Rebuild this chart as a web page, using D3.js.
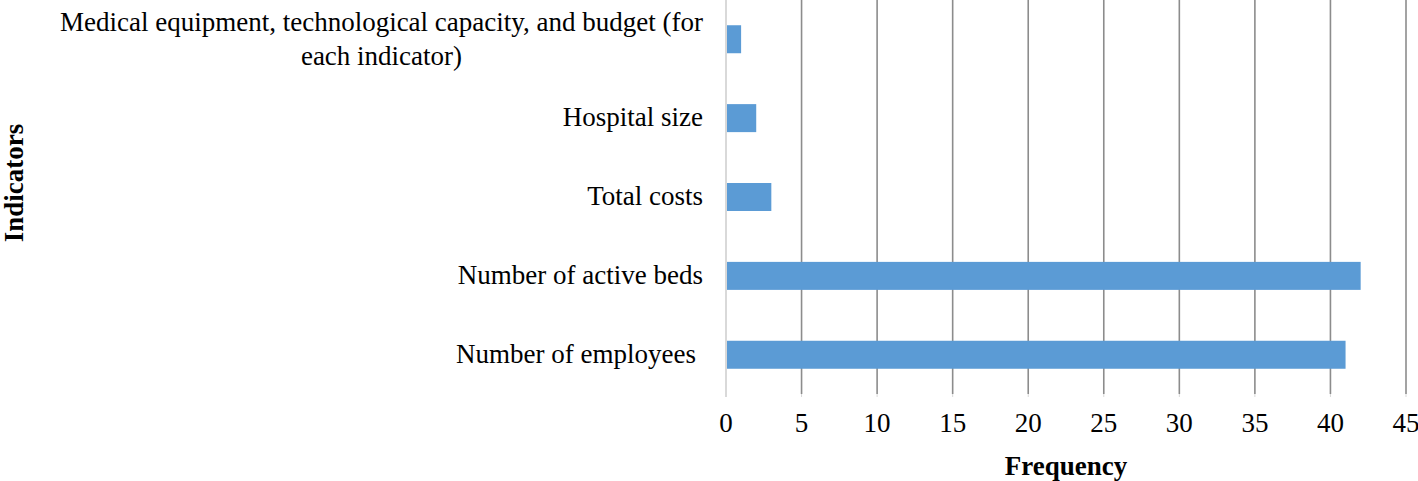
<!DOCTYPE html>
<html>
<head>
<meta charset="utf-8">
<script src="https://d3js.org/d3.v7.min.js"></script>
<style>
  body { margin: 0; background: #fff; }
  text { font-family: 'Liberation Serif', 'Times New Roman', serif; fill: #000; }
</style>
</head>
<body>
<script>
var categories = ['Medical equipment, technological capacity, and budget (for each indicator)',
                  'Hospital size', 'Total costs', 'Number of active beds', 'Number of employees']
var values = [1, 2, 3, 42, 41]
var xTicks = [0, 5, 10, 15, 20, 25, 30, 35, 40, 45]

var w = 1418, h = 481
var plotLeft = 726, plotRight = 1406, plotTop = 0, plotBottom = 394
var fs = 27

var svg = d3.select('body').append('svg').attr('width', w).attr('height', h)

var x = d3.scaleLinear().domain([0, 45]).range([plotLeft, plotRight])
var y = d3.scaleBand().domain(categories).range([plotTop, plotBottom]).paddingInner(0.645).paddingOuter(0.32)

// grid lines
svg.selectAll('line.grid')
    .data(xTicks.slice(1))
    .enter()
    .append('line')
    .attr('class', 'grid')
    .attr('x1', function(d) { return x(d) })
    .attr('x2', function(d) { return x(d) })
    .attr('y1', plotTop)
    .attr('y2', plotBottom)
    .attr('stroke', '#8c8c8c')
    .attr('stroke-width', 1.6)

// small ticks below plot
svg.selectAll('line.tick')
    .data(xTicks)
    .enter()
    .append('line')
    .attr('class', 'tick')
    .attr('x1', function(d) { return x(d) })
    .attr('x2', function(d) { return x(d) })
    .attr('y1', plotBottom)
    .attr('y2', plotBottom + 3)
    .attr('stroke', '#d9d9d9')
    .attr('stroke-width', 1)

// zero axis line
svg.append('line')
    .attr('x1', x(0)).attr('x2', x(0))
    .attr('y1', plotTop).attr('y2', plotBottom + 3)
    .attr('stroke', '#d9d9d9')
    .attr('stroke-width', 2)

svg.selectAll('rect')
    .data(values)
    .enter()
    .append('rect')
    .attr('x', x(0) + 1)
    .attr('y', function(d, i) { return y(categories[i]) })
    .attr('width', function(d) { return x(d) - x(0) - 1 })
    .attr('height', y.bandwidth())
    .attr('fill', '#5b9bd5')

// tick labels
svg.selectAll('text.xt')
    .data(xTicks)
    .enter()
    .append('text')
    .attr('class', 'xt')
    .attr('x', function(d) { return x(d) })
    .attr('y', 432)
    .attr('text-anchor', 'middle')
    .attr('font-size', fs + 'px')
    .text(function(d) { return d })

// category labels
var labelRight = 703
categories.forEach(function(c, i) {
    var cy = y(c) + y.bandwidth() / 2
    if (i === 0) {
        var lines = ['Medical equipment, technological capacity, and budget (for', 'each indicator)']
        var t0 = svg.append('text').attr('font-size', fs + 'px').attr('text-anchor', 'end')
            .attr('x', labelRight).attr('y', 0).text(lines[0])
        var wid = t0.node().getComputedTextLength()
        t0.remove()
        var cx = labelRight - wid / 2
        lines.forEach(function(l, j) {
            svg.append('text').attr('font-size', fs + 'px').attr('text-anchor', 'middle')
                .attr('x', cx).attr('y', cy - 8 + j * 34).text(l)
        })
    } else {
        svg.append('text').attr('font-size', fs + 'px').attr('text-anchor', 'end')
            .attr('x', i === 4 ? labelRight - 7 : labelRight).attr('y', cy + 8).text(c)
    }
})

svg.append('text')
    .attr('x', x(22.5))
    .attr('y', 475)
    .attr('text-anchor', 'middle')
    .attr('font-size', '27px')
    .attr('font-weight', 'bold')
    .text('Frequency')

svg.append('text')
    .attr('transform', 'translate(23,' + 183 + ') rotate(-90)')
    .attr('text-anchor', 'middle')
    .attr('font-size', '27px')
    .attr('font-weight', 'bold')
    .text('Indicators')
</script>
</body>
</html>
